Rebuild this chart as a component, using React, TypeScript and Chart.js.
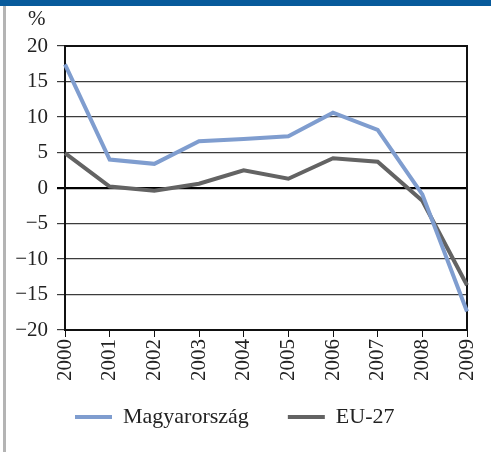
import React, { useEffect, useRef } from "react";
import { Chart, registerables } from "chart.js";

Chart.register(...registerables);

const years = ["2000", "2001", "2002", "2003", "2004", "2005", "2006", "2007", "2008", "2009"];
const magyarorszag = [17.4, 4.0, 3.4, 6.6, 6.9, 7.3, 10.6, 8.2, -0.9, -17.4];
const eu27 = [4.9, 0.2, -0.4, 0.6, 2.5, 1.3, 4.2, 3.7, -1.8, -13.7];
const seriesNames = ["Magyarország", "EU-27"];
const unitLabel = "%";
const yMin = -20;
const yMax = 20;
const yStep = 5;

const FONT = "'Liberation Serif', 'DejaVu Serif', serif";
const HU_COLOR = "#7f9dcf";
const EU_COLOR = "#636363";

export default function App() {
  const ref = useRef<HTMLCanvasElement | null>(null);

  useEffect(() => {
    if (!ref.current) return;
    const extras = {
      id: "extras",
      afterLayout(chart: any) {
        const lg = chart.legend;
        if (lg) {
          const w = lg.right - lg.left;
          lg.left = 30;
          lg.right = 30 + w;
          const targetCenter = 411;
          const itemCenter = lg.top + 39 + 11;
          const dy = targetCenter - itemCenter;
          lg.top += dy;
          lg.bottom += dy;
        }
      },
      beforeDatasetsDraw(chart: any) {
        const { ctx, chartArea } = chart;
        ctx.save();
        ctx.strokeStyle = "#111";
        ctx.lineWidth = 2;
        ctx.beginPath();
        ctx.moveTo(chartArea.left, chartArea.top);
        ctx.lineTo(chartArea.right, chartArea.top);
        ctx.lineTo(chartArea.right, chartArea.bottom);
        ctx.stroke();
        ctx.restore();
      },
      afterDraw(chart: any) {
        const { ctx, chartArea } = chart;
        ctx.save();
        ctx.font = `21px ${FONT}`;
        ctx.fillStyle = "#222";
        ctx.textAlign = "left";
        ctx.textBaseline = "middle";
        ctx.fillText(unitLabel, chartArea.left - 37, 13);
        ctx.restore();
      },
    };

    const chart = new Chart(ref.current, {
      type: "line",
      data: {
        labels: years,
        datasets: [
          {
            label: seriesNames[0],
            data: magyarorszag,
            borderColor: HU_COLOR,
            backgroundColor: HU_COLOR,
            borderWidth: 4,
            pointRadius: 0,
            tension: 0,
          },
          {
            label: seriesNames[1],
            data: eu27,
            borderColor: EU_COLOR,
            backgroundColor: EU_COLOR,
            borderWidth: 4,
            pointRadius: 0,
            tension: 0,
          },
        ],
      },
      plugins: [extras],
      options: {
        responsive: false,
        animation: false,
        layout: { padding: { top: 40, right: 24, bottom: -2, left: 0 } },
        plugins: {
          tooltip: { enabled: false },
          legend: {
            position: "bottom",
            align: "start",
            labels: {
              font: { family: FONT, size: 22 },
              color: "#222",
              boxWidth: 37,
              boxHeight: 4,
              padding: 39,
              generateLabels(chart: any) {
                return chart.data.datasets.map((d: any, i: number) => ({
                  text: d.label,
                  fillStyle: d.borderColor,
                  strokeStyle: d.borderColor,
                  lineWidth: 0,
                  hidden: false,
                  datasetIndex: i,
                  fontColor: "#222",
                }));
              },
            },
          },
        },
        scales: {
          x: {
            offset: false,
            afterFit(scale: any) {
              scale.paddingRight = 0;
              scale.paddingLeft = 0;
            },
            grid: {
              drawOnChartArea: false,
              drawTicks: true,
              tickLength: 7,
              color: "#111",
              lineWidth: 1,
            },
            border: { display: true, color: "#111", width: 2 },
            ticks: {
              font: { family: FONT, size: 21 },
              color: "#222",
              maxRotation: 90,
              minRotation: 90,
              padding: 2,
              autoSkip: false,
            },
          },
          y: {
            min: yMin,
            max: yMax,
            afterFit(scale: any) {
              scale.width = 59;
            },
            grid: {
              color: (c: any) => (c.tick && c.tick.value === 0 ? "#000" : "#3c3c3c"),
              lineWidth: (c: any) => (c.tick && c.tick.value === 0 ? 2.2 : 1.2),
              tickLength: 8,
            },
            border: { display: true, color: "#111", width: 2 },
            ticks: {
              stepSize: yStep,
              font: { family: FONT, size: 21 },
              color: "#222",
              padding: 9,
              callback: (v: any) => String(v).replace("-", "\u2212"),
            },
          },
        },
      },
    });
    return () => chart.destroy();
  }, []);

  return (
    <div
      style={{
        position: "absolute",
        left: 0,
        top: 0,
        width: 491,
        height: 452,
        background: "#fff",
        overflow: "hidden",
      }}
    >
      <div style={{ position: "absolute", left: 0, top: 0, width: 491, height: 6, background: "#075a9b" }} />
      <div style={{ position: "absolute", left: 3, top: 6, width: 3, height: 446, background: "#b4b4b4" }} />
      <canvas
        ref={ref}
        width={485}
        height={446}
        style={{ position: "absolute", left: 6, top: 6, width: 485, height: 446 }}
      />
    </div>
  );
}
